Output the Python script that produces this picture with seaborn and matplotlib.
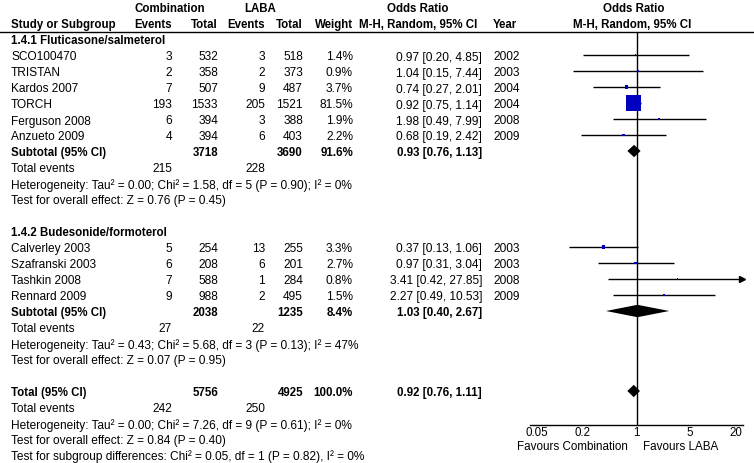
import numpy as np
import pandas as pd
import matplotlib
matplotlib.use("Agg")
import matplotlib.pyplot as plt
import seaborn as sns

sns.set_theme(style="white")
plt.rcParams['font.family'] = ['Liberation Sans', 'DejaVu Sans']

# ---------------- data ----------------
group1_name = "1.4.1 Fluticasone/salmeterol"
g1_studies = ["SCO100470", "TRISTAN", "Kardos 2007", "TORCH", "Ferguson 2008", "Anzueto 2009"]
g1_comb_events = [3, 2, 7, 193, 6, 4]
g1_comb_total = [532, 358, 507, 1533, 394, 394]
g1_laba_events = [3, 2, 9, 205, 3, 6]
g1_laba_total = [518, 373, 487, 1521, 388, 403]
g1_weight = [1.4, 0.9, 3.7, 81.5, 1.9, 2.2]
g1_or = [0.97, 1.04, 0.74, 0.92, 1.98, 0.68]
g1_lo = [0.20, 0.15, 0.27, 0.75, 0.49, 0.19]
g1_hi = [4.85, 7.44, 2.01, 1.14, 7.99, 2.42]
g1_year = [2002, 2003, 2004, 2004, 2008, 2009]
g1_sub = dict(comb_total=3718, laba_total=3690, weight="91.6%", est=0.93, lo=0.76, hi=1.13,
              comb_events=215, laba_events=228)
g1_het = "Heterogeneity: Tau\u00b2 = 0.00; Chi\u00b2 = 1.58, df = 5 (P = 0.90); I\u00b2 = 0%"
g1_test = "Test for overall effect: Z = 0.76 (P = 0.45)"

group2_name = "1.4.2 Budesonide/formoterol"
g2_studies = ["Calverley 2003", "Szafranski 2003", "Tashkin 2008", "Rennard 2009"]
g2_comb_events = [5, 6, 7, 9]
g2_comb_total = [254, 208, 588, 988]
g2_laba_events = [13, 6, 1, 2]
g2_laba_total = [255, 201, 284, 495]
g2_weight = [3.3, 2.7, 0.8, 1.5]
g2_or = [0.37, 0.97, 3.41, 2.27]
g2_lo = [0.13, 0.31, 0.42, 0.49]
g2_hi = [1.06, 3.04, 27.85, 10.53]
g2_year = [2003, 2003, 2008, 2009]
g2_sub = dict(comb_total=2038, laba_total=1235, weight="8.4%", est=1.03, lo=0.40, hi=2.67,
              comb_events=27, laba_events=22)
g2_het = "Heterogeneity: Tau\u00b2 = 0.43; Chi\u00b2 = 5.68, df = 3 (P = 0.13); I\u00b2 = 47%"
g2_test = "Test for overall effect: Z = 0.07 (P = 0.95)"

total = dict(comb_total=5756, laba_total=4925, weight="100.0%", est=0.92, lo=0.76, hi=1.11,
             comb_events=242, laba_events=250)
total_het = "Heterogeneity: Tau\u00b2 = 0.00; Chi\u00b2 = 7.26, df = 9 (P = 0.61); I\u00b2 = 0%"
total_test = "Test for overall effect: Z = 0.84 (P = 0.40)"
subgroup_test = "Test for subgroup differences: Chi\u00b2 = 0.05, df = 1 (P = 0.82), I\u00b2 = 0%"

tick_values = [0.05, 0.2, 1, 5, 20]
tick_labels = ["0.05", "0.2", "1", "5", "20"]
favours_left = "Favours Combination"
favours_right = "Favours LABA"

# ---------------- layout ----------------
W, H = 754, 464
fig = plt.figure(figsize=(W / 100, H / 100), dpi=100)
fig.patch.set_facecolor("white")
tab = fig.add_axes([0, 0, 1, 1])
tab.set_xlim(0, W)
tab.set_ylim(H, 0)
tab.axis("off")

FS = 8.6
FSB = 8.3
Y0, DY = 41.5, 16.0
MARK_OFF = -1.5

def ry(i):
    return Y0 + DY * i

X_NAME, X_CE, X_CT, X_LE, X_LT, X_W, X_OR, X_YEAR = 11, 172, 218, 265, 303, 353, 482, 493

def txt(x, y, s, ha="left", bold=False, fs=None):
    tab.text(x, y, s, ha=ha, va="center", fontsize=fs or (FSB if bold else FS),
             fontweight="bold" if bold else "normal", color="black")

# header
txt(170, 9, "Combination", ha="center", bold=True)
txt(260, 9, "LABA", ha="center", bold=True)
txt(418, 9, "Odds Ratio", ha="center", bold=True)
txt(634, 9, "Odds Ratio", ha="center", bold=True)
txt(X_NAME, 25, "Study or Subgroup", bold=True)
txt(X_CE, 25, "Events", ha="right", bold=True)
txt(X_CT, 25, "Total", ha="right", bold=True)
txt(X_LE, 25, "Events", ha="right", bold=True)
txt(X_LT, 25, "Total", ha="right", bold=True)
txt(X_W, 25, "Weight", ha="right", bold=True)
txt(418, 25, "M-H, Random, 95% CI", ha="center", bold=True)
txt(X_YEAR, 25, "Year", bold=True)
txt(632, 25, "M-H, Random, 95% CI", ha="center", bold=True)
tab.axhline(32.5, color="black", lw=1.0)

# forest axes
XMIN, XMAX = 1 / 24.5, 24.5
AX_L, AX_R, AX_T, AX_B = 530, 743, 32.5, 426
fa = fig.add_axes([AX_L / W, (H - AX_B) / H, (AX_R - AX_L) / W, (AX_B - AX_T) / H])
fa.set_xscale("log")
fa.set_xlim(XMIN, XMAX)
fa.set_ylim(AX_B, AX_T)
fa.patch.set_alpha(0)
for sp in ["top", "left", "right"]:
    fa.spines[sp].set_visible(False)
fa.spines["bottom"].set_color("black")
fa.spines["bottom"].set_linewidth(1.0)
fa.set_xticks(tick_values)
fa.set_xticklabels(tick_labels)
fa.xaxis.set_minor_locator(matplotlib.ticker.NullLocator())
fa.tick_params(axis="x", direction="inout", length=7, width=1, colors="black",
               labelsize=8.3, pad=-2.5)
fa.set_yticks([])
fa.axvline(1, color="black", lw=1.0, zorder=1)
fa.grid(False)

txt(628, 447, favours_left, ha="right", fs=8.4)
txt(643, 447, favours_right, fs=8.4)

rows = []  # for squares

def study_rows(start, studies, ce, ct, le, lt, w, orv, lo, hi, yr):
    for k in range(len(studies)):
        y = ry(start + k)
        txt(X_NAME, y, studies[k])
        txt(X_CE, y, str(ce[k]), ha="right")
        txt(X_CT, y, str(ct[k]), ha="right")
        txt(X_LE, y, str(le[k]), ha="right")
        txt(X_LT, y, str(lt[k]), ha="right")
        txt(X_W, y, f"{w[k]:.1f}%", ha="right")
        txt(X_OR, y, f"{orv[k]:.2f} [{lo[k]:.2f}, {hi[k]:.2f}]", ha="right")
        txt(X_YEAR, y, str(yr[k]))
        ym = y + MARK_OFF
        right = min(hi[k], XMAX)
        fa.plot([max(lo[k], XMIN), right], [ym, ym], color="black", lw=1.0, zorder=2,
                solid_capstyle="butt")
        if hi[k] > XMAX:
            fa.plot([XMAX * 0.985], [ym], marker=">", color="black", markersize=5,
                    clip_on=False, zorder=3)
        rows.append(dict(or_=orv[k], y=ym, weight=w[k]))

def summary_rows(start, label, s, het, test):
    y = ry(start)
    txt(X_NAME, y, label, bold=True)
    txt(X_CT, y, str(s["comb_total"]), ha="right", bold=True)
    txt(X_LT, y, str(s["laba_total"]), ha="right", bold=True)
    txt(X_W, y, s["weight"], ha="right", bold=True)
    txt(X_OR, y, f"{s['est']:.2f} [{s['lo']:.2f}, {s['hi']:.2f}]", ha="right", bold=True)
    ym = y + MARK_OFF
    h = 6.2
    fa.fill([s["lo"], s["est"], s["hi"], s["est"]], [ym, ym - h, ym, ym + h],
            color="black", lw=0, zorder=4)
    txt(X_NAME, ry(start + 1), "Total events")
    txt(X_CE, ry(start + 1), str(s["comb_events"]), ha="right")
    txt(X_LE, ry(start + 1), str(s["laba_events"]), ha="right")
    txt(X_NAME, ry(start + 2), het)
    txt(X_NAME, ry(start + 3), test)

txt(X_NAME, ry(0), group1_name, bold=True)
study_rows(1, g1_studies, g1_comb_events, g1_comb_total, g1_laba_events, g1_laba_total,
           g1_weight, g1_or, g1_lo, g1_hi, g1_year)
summary_rows(7, "Subtotal (95% CI)", g1_sub, g1_het, g1_test)

txt(X_NAME, ry(12), group2_name, bold=True)
study_rows(13, g2_studies, g2_comb_events, g2_comb_total, g2_laba_events, g2_laba_total,
           g2_weight, g2_or, g2_lo, g2_hi, g2_year)
summary_rows(17, "Subtotal (95% CI)", g2_sub, g2_het, g2_test)

summary_rows(22, "Total (95% CI)", total, total_het, total_test)
txt(X_NAME, ry(26) - 1, subgroup_test)

df = pd.DataFrame(rows)
sns.scatterplot(data=df, x="or_", y="y", size="weight", sizes=(0, 117),
                size_norm=(0, max(g1_weight + g2_weight)), marker="s",
                color="#0000C0", linewidth=0, legend=False, ax=fa, zorder=5)
fa.set_xlabel("")
fa.set_ylabel("")
fa.set_ylim(AX_B, AX_T)
fa.set_xlim(XMIN, XMAX)

fig.savefig("out.png", dpi=100, facecolor="white")
